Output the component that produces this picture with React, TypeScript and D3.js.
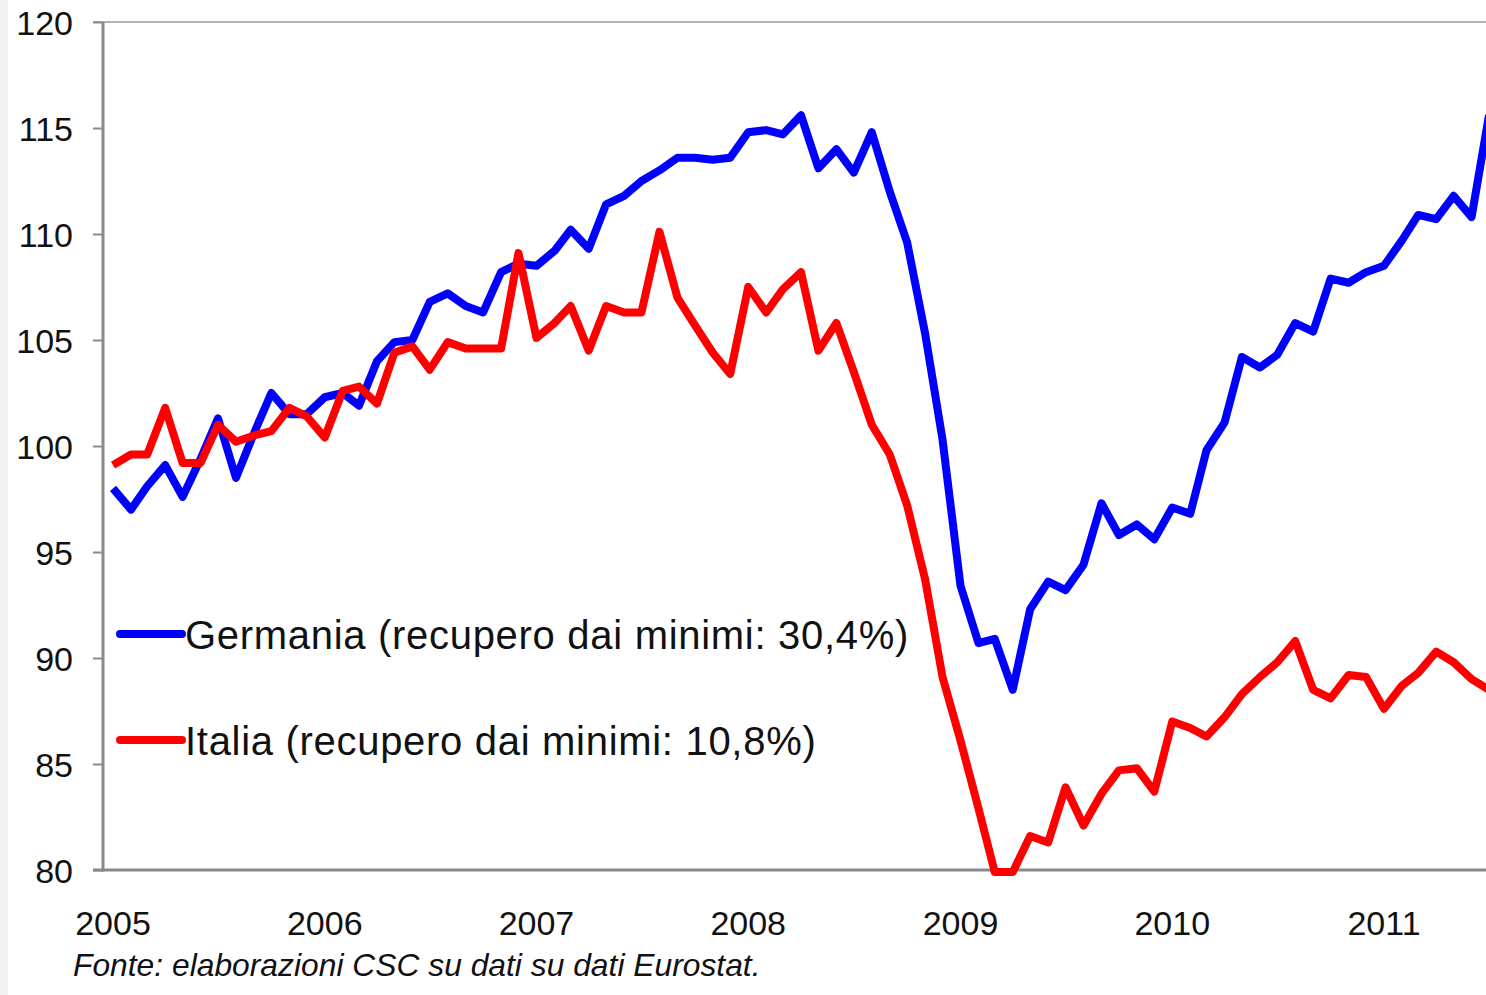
import React, { useEffect, useRef } from "react";
import * as d3 from "d3";

// monthly index, Jan 2005 .. Jul 2011
const startMonth = new Date(2005, 0, 1);
const endMonth = new Date(2011, 6, 1);
const months = d3.timeMonth.range(startMonth, d3.timeMonth.offset(endMonth, 1));

const germania = [
  98.0, 97.0, 98.1, 99.1, 97.6, 99.4, 101.3, 98.5, 100.6, 102.5, 101.5, 101.5,
  102.3, 102.5, 101.9, 104.0, 104.9, 105.0, 106.8, 107.2, 106.6, 106.3, 108.2, 108.6,
  108.5, 109.2, 110.2, 109.3, 111.4, 111.8, 112.5, 113.0, 113.6, 113.6, 113.5, 113.6,
  114.8, 114.9, 114.7, 115.6, 113.1, 114.0, 112.9, 114.8, 112.0, 109.6, 105.3, 100.3,
  93.4, 90.7, 90.9, 88.5, 92.3, 93.6, 93.2, 94.4, 97.3, 95.8, 96.3, 95.6,
  97.1, 96.8, 99.8, 101.1, 104.2, 103.7, 104.3, 105.8, 105.4, 107.9, 107.7, 108.2,
  108.5, 109.7, 110.9, 110.7, 111.8, 110.8, 115.6,
];

const italia = [
  99.1, 99.6, 99.6, 101.8, 99.2, 99.2, 101.0, 100.2, 100.5, 100.7, 101.8, 101.4,
  100.4, 102.6, 102.8, 102.0, 104.4, 104.7, 103.6, 104.9, 104.6, 104.6, 104.6, 109.1,
  105.1, 105.8, 106.6, 104.5, 106.6, 106.3, 106.3, 110.1, 107.0, 105.7, 104.4, 103.4,
  107.5, 106.3, 107.4, 108.2, 104.5, 105.8, 103.5, 101.0, 99.6, 97.2, 93.7, 89.1,
  86.1, 82.9, 79.9, 79.9, 81.6, 81.3, 83.9, 82.1, 83.6, 84.7, 84.8, 83.7,
  87.0, 86.7, 86.3, 87.2, 88.3, 89.1, 89.8, 90.8, 88.5, 88.1, 89.2, 89.1,
  87.6, 88.7, 89.3, 90.3, 89.8, 89.0, 88.5,
];

const yTicks = [80, 85, 90, 95, 100, 105, 110, 115, 120];
const yearTicks = ["2005", "2006", "2007", "2008", "2009", "2010", "2011"];

const seriesNames = [
  "Germania (recupero dai minimi: 30,4%)",
  "Italia (recupero dai minimi: 10,8%)",
];
const seriesColors = ["#0000ff", "#ff0000"];
const sourceNote = "Fonte: elaborazioni CSC su dati su dati Eurostat.";

const W = 1486;
const H = 995;
const FONT = "'Liberation Sans', Arial, sans-serif";

const App = () => {
  const svgRef = useRef<SVGSVGElement>(null);

  useEffect(() => {
    const svg = d3.select(svgRef.current);
    svg.selectAll("*").remove();

    const axisX = 103;
    const x = d3.scaleTime().domain([startMonth, endMonth]).range([113, 1489]);
    const y = d3.scaleLinear().domain([80, 120]).range([870, 22]);

    svg.append("rect").attr("width", W).attr("height", H).attr("fill", "#fff");
    // faint strip on the left edge
    svg.append("rect").attr("width", 8).attr("height", H).attr("fill", "#f3f3f3");

    // top border
    svg.append("line")
      .attr("x1", 93).attr("x2", W)
      .attr("y1", y(120)).attr("y2", y(120))
      .attr("stroke", "#b4b4b4").attr("stroke-width", 2);

    // y axis
    const yAxis = d3.axisLeft(y).tickValues(yTicks).tickSize(10).tickPadding(20)
      .tickFormat((d) => String(d));
    const gy = svg.append("g").attr("transform", `translate(${axisX},0)`).call(yAxis);
    gy.select(".domain").remove();
    gy.selectAll(".tick line").attr("stroke", "#8a8a8a").attr("stroke-width", 2);
    gy.selectAll(".tick text")
      .attr("font-family", FONT).attr("font-size", 34).attr("fill", "#111")
      .attr("dy", "0.38em");
    svg.append("line")
      .attr("x1", axisX).attr("x2", axisX)
      .attr("y1", y(120)).attr("y2", y(80) + 1.5)
      .attr("stroke", "#8a8a8a").attr("stroke-width", 3);

    // x axis line
    svg.append("line")
      .attr("x1", 93).attr("x2", W)
      .attr("y1", y(80)).attr("y2", y(80))
      .attr("stroke", "#8a8a8a").attr("stroke-width", 3);

    // year labels
    svg.append("g")
      .selectAll("text")
      .data(yearTicks)
      .enter()
      .append("text")
      .attr("x", (d) => x(new Date(+d, 0, 1)))
      .attr("y", 935)
      .attr("text-anchor", "middle")
      .attr("font-family", FONT).attr("font-size", 34).attr("fill", "#111")
      .text((d) => d);

    // source note
    svg.append("text")
      .attr("x", 73).attr("y", 976)
      .attr("font-family", FONT).attr("font-size", 31.8).attr("font-style", "italic")
      .attr("fill", "#111")
      .text(sourceNote);

    // lines
    const line = d3.line<number>()
      .x((_, i) => x(months[i]))
      .y((d) => y(d));

    [germania, italia].forEach((vals, k) => {
      svg.append("path")
        .datum(vals)
        .attr("d", line)
        .attr("fill", "none")
        .attr("stroke", seriesColors[k])
        .attr("stroke-width", 8)
        .attr("stroke-linejoin", "round");
    });

    // legend
    const legendY = [634, 740];
    seriesNames.forEach((name, k) => {
      svg.append("line")
        .attr("x1", 120).attr("x2", 182)
        .attr("y1", legendY[k]).attr("y2", legendY[k])
        .attr("stroke", seriesColors[k]).attr("stroke-width", 8)
        .attr("stroke-linecap", "round");
      svg.append("text")
        .attr("x", 185).attr("y", legendY[k] + 15)
        .attr("font-family", FONT).attr("font-size", 40).attr("fill", "#111")
        .attr("letter-spacing", 0.7)
        .text(name);
    });
  }, []);

  return (
    <svg
      ref={svgRef}
      width={W}
      height={H}
      style={{ position: "absolute", left: 0, top: 0, display: "block" }}
    />
  );
};

export default App;
